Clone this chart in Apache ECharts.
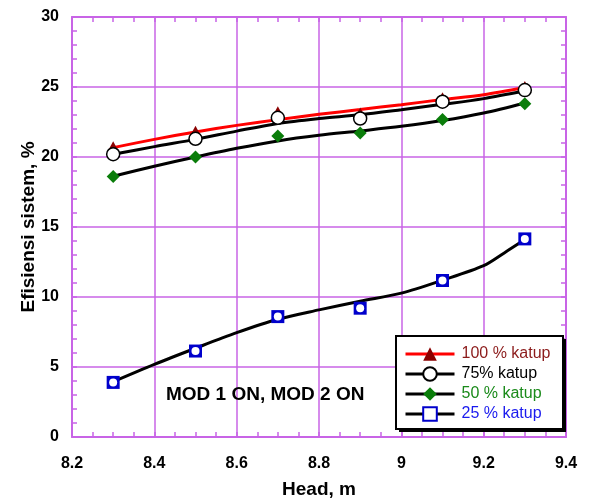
<!DOCTYPE html>
<html>
<head>
<meta charset="utf-8">
<script src="https://cdn.jsdelivr.net/npm/echarts@6/dist/echarts.min.js"></script>
<style>
  html, body { margin: 0; padding: 0; background: #fff; }
  #chart { width: 591px; height: 499px; }
</style>
</head>
<body>
<div id="chart"></div>
<script>
// Measured points (Head, m)
const heads = [8.3, 8.5, 8.7, 8.9, 9.1, 9.3];
const eff100 = [20.7, 21.8, 23.2, 23.1, 24.2, 25.0];
const eff75  = [20.2, 21.3, 22.8, 22.75, 23.95, 24.78];
const eff50  = [18.6, 20.0, 21.5, 21.72, 22.68, 23.8];
const eff25  = [3.9, 6.14, 8.6, 9.2, 11.18, 14.15];

// Trend curves
const trendX   = [8.3, 8.4, 8.5, 8.6, 8.7, 8.8, 8.9, 9.0, 9.1, 9.2, 9.3];
const trend100 = [20.67, 21.26, 21.79, 22.26, 22.67, 23.05, 23.39, 23.74, 24.1, 24.45, 24.96];
const trend75  = [20.19, 20.74, 21.26, 21.85, 22.4, 22.75, 23.02, 23.38, 23.76, 24.17, 24.73];
const trend50  = [18.62, 19.34, 20.0, 20.62, 21.15, 21.55, 21.86, 22.19, 22.6, 23.14, 23.86];
const trend25X = [8.3, 8.4, 8.5, 8.6, 8.7, 8.8, 8.9, 9.0, 9.1, 9.2, 9.25, 9.3];
const trend25  = [3.95, 5.19, 6.34, 7.45, 8.41, 9.08, 9.7, 10.28, 11.2, 12.24, 13.15, 14.1];

const names = ['100 % katup', '75% katup', '50 % katup', '25 % katup'];
const legendColors = ['#8b1a1a', '#000000', '#1a8a1a', '#1a1aee'];
const xTicks = { min: 8.2, max: 9.4, step: 0.2 };
const yTicks = { min: 0, max: 30, step: 5 };

const PURPLE = '#c864e6';
const FONT = 'Liberation Sans, Arial, sans-serif';

function pairs(xs, ys) { return xs.map((x, i) => [x, ys[i]]); }

const chart = echarts.init(document.getElementById('chart'), null, { renderer: 'canvas' });

function axisCommon(extra) {
  return Object.assign({
    type: 'value',
    nameMoveOverlap: false,
    axisLine: { show: true, onZero: false, lineStyle: { color: PURPLE, width: 2 } },
    axisTick: { show: true, inside: true, length: 5, lineStyle: { color: PURPLE, width: 1.5 } },
    splitLine: { show: false },
  }, extra);
}

const option = {
  backgroundColor: '#fff',
  animation: false,
  grid: { left: 72, right: 25, top: 17, bottom: 62, containLabel: false, outerBoundsMode: 'none' },
  xAxis: [
    axisCommon({
      position: 'bottom',
      min: xTicks.min, max: xTicks.max, interval: xTicks.step,
      minorTick: { show: true, splitNumber: 4, length: 5, lineStyle: { color: PURPLE, width: 1.5 } },
      splitLine: { show: true, lineStyle: { color: PURPLE, width: 1.5 } },
      axisLabel: { fontSize: 16, fontWeight: 'bold', color: '#000', fontFamily: FONT, margin: 19 },
      name: 'Head, m', nameLocation: 'middle', nameGap: 43,
      nameTextStyle: { fontSize: 19, fontWeight: 'bold', color: '#000', fontFamily: FONT }
    }),
    axisCommon({
      position: 'top',
      min: xTicks.min, max: xTicks.max, interval: xTicks.step,
      minorTick: { show: true, splitNumber: 4, length: 5, lineStyle: { color: PURPLE, width: 1.5 } },
      axisLabel: { show: false }
    })
  ],
  yAxis: [
    axisCommon({
      position: 'left',
      min: yTicks.min, max: yTicks.max, interval: yTicks.step,
      minorTick: { show: true, splitNumber: 5, length: 5, lineStyle: { color: PURPLE, width: 1.5 } },
      splitLine: { show: true, lineStyle: { color: PURPLE, width: 1.5 } },
      axisLabel: { fontSize: 16, fontWeight: 'bold', color: '#000', fontFamily: FONT, margin: 13 },
      name: 'Efisiensi sistem, %', nameLocation: 'middle', nameGap: 34,
      nameTextStyle: { fontSize: 19, fontWeight: 'bold', color: '#000', fontFamily: FONT }
    }),
    axisCommon({
      position: 'right',
      min: yTicks.min, max: yTicks.max, interval: yTicks.step,
      minorTick: { show: true, splitNumber: 5, length: 5, lineStyle: { color: PURPLE, width: 1.5 } },
      axisLabel: { show: false }
    })
  ],
  legend: {
    orient: 'vertical',
    left: 395, top: 335,
    padding: [11, 16, 6, 9],
    itemWidth: 49, itemHeight: 17, itemGap: 4,
    backgroundColor: 'transparent',
    borderWidth: 0,
    selectedMode: false,
    lineStyle: { width: 3 },
    textStyle: { fontSize: 16, fontFamily: FONT, padding: [0, 0, 0, 2] },
    data: names.map((n, i) => ({ name: n, textStyle: { color: legendColors[i] } }))
  },
  graphic: [
    { type: 'rect', left: 399, top: 339, z: 1, shape: { width: 167, height: 93 }, style: { fill: '#000' } },
    { type: 'rect', left: 395, top: 335, z: 2, shape: { width: 167, height: 93 }, style: { fill: '#fff', stroke: '#000', lineWidth: 2 } },
    { type: 'text', left: 166, top: 385, z: 10,
      style: { text: 'MOD 1 ON, MOD 2 ON', fontSize: 19, fontWeight: 'bold', fontFamily: FONT, fill: '#000' } }
  ],
  series: [
    { name: names[0], type: 'line', data: pairs(trendX, trend100), smooth: 0.3, showSymbol: false,
      symbol: 'triangle', z: 2,
      lineStyle: { color: '#ff0000', width: 3 }, itemStyle: { color: '#8b0000' } },
    { name: names[1], type: 'line', data: pairs(trendX, trend75), smooth: 0.3, showSymbol: false,
      symbol: 'circle', z: 2,
      lineStyle: { color: '#000', width: 3 }, itemStyle: { color: '#fff', borderColor: '#000', borderWidth: 1.5 } },
    { name: names[2], type: 'line', data: pairs(trendX, trend50), smooth: 0.3, showSymbol: false,
      symbol: 'diamond', z: 2,
      lineStyle: { color: '#000', width: 3 }, itemStyle: { color: '#0a7d0a' } },
    { name: names[3], type: 'line', data: pairs(trend25X, trend25), smooth: 0.3, showSymbol: false,
      symbol: 'rect', z: 2,
      lineStyle: { color: '#000', width: 3 }, itemStyle: { color: '#fff', borderColor: '#0000cc', borderWidth: 3.5 } },

    { name: 'p50', type: 'scatter', data: pairs(heads, eff50), symbol: 'diamond', symbolSize: 13, z: 3,
      itemStyle: { color: '#0a7d0a', opacity: 1 } },
    { name: 'p25', type: 'scatter', data: pairs(heads, eff25), symbol: 'rect', symbolSize: 13, z: 3,
      itemStyle: { color: '#0000cc', opacity: 1 } },
    { name: 'p25in', type: 'scatter', data: pairs(heads, eff25), symbol: 'circle', symbolSize: 8, z: 4,
      itemStyle: { color: '#fff', opacity: 1 } },
    { name: 'p100', type: 'scatter', data: pairs(heads, eff100), symbol: 'triangle', symbolSize: [13, 12], z: 3,
      itemStyle: { color: '#8b0000', opacity: 1 } },
    { name: 'p75', type: 'scatter', data: pairs(heads, eff75), symbol: 'circle', symbolSize: 13, z: 4,
      itemStyle: { color: '#fff', borderColor: '#000', borderWidth: 1.5, opacity: 1 } }
  ]
};

chart.setOption(option);
</script>
</body>
</html>
